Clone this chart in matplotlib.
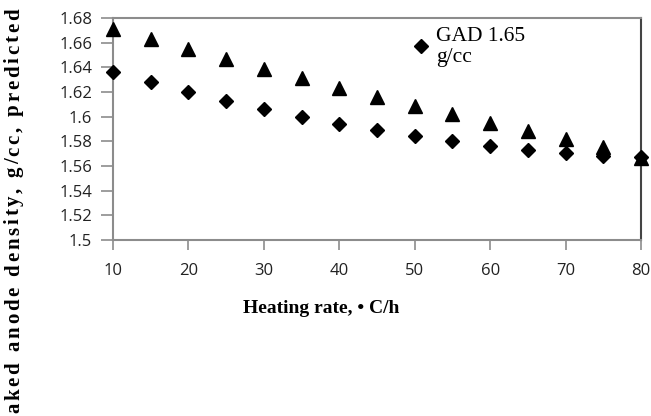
# Densidad de anodo cocido vs velocidad de calentamiento
import numpy as np
import matplotlib.pyplot as plt
from matplotlib.font_manager import FontProperties

# datos
tasa = [10, 15, 20, 25, 30, 35, 40, 45, 50, 55, 60, 65, 70, 75, 80]
gad_165 = [1.636, 1.628, 1.620, 1.613, 1.606, 1.600, 1.594, 1.589, 1.584,
           1.580, 1.576, 1.573, 1.5705, 1.568, 1.567]
otra_serie = [1.671, 1.6627, 1.655, 1.6467, 1.639, 1.631, 1.6235, 1.616, 1.609,
              1.602, 1.5946, 1.588, 1.5816, 1.5756, 1.5667]
yticks = [1.5, 1.52, 1.54, 1.56, 1.58, 1.6, 1.62, 1.64, 1.66, 1.68]
xticks = [10, 20, 30, 40, 50, 60, 70, 80]
titulo_y = 'Baked anode density, g/cc, predicted by model'

fig = plt.figure(figsize=(6.51, 4.16), dpi=100)
ax = fig.add_axes([0.1736, 0.423, 0.811, 0.5337])

ax.plot(tasa, otra_serie, linestyle='none', marker='^', color='black', markersize=10,
        clip_on=False, zorder=3)
ax.plot(tasa, gad_165, linestyle='none', marker='D', color='black', markersize=7.5,
        label='GAD 1.65\ng/cc', clip_on=False, zorder=3)

ax.set_xlim(10, 80)
ax.set_ylim(1.5, 1.68)
ax.set_xticks(xticks)
ax.set_yticks(yticks)
ax.set_yticklabels([('%g' % v) for v in yticks])
ax.tick_params(axis='both', direction='out', width=1.2, color='#8c8c8c',
               labelsize=12, labelcolor='#222222')
ax.tick_params(axis='y', length=8.5, pad=6.5)
ax.tick_params(axis='x', length=7.5, pad=9)
for lab in ax.get_xticklabels() + ax.get_yticklabels():
    lab.set_family('Open Sans')

for lado in ['left', 'bottom', 'top']:
    ax.spines[lado].set_color('#8c8c8c')
    ax.spines[lado].set_linewidth(1.5)
ax.spines['right'].set_color('#444444')
ax.spines['right'].set_linewidth(1.5)

leg = ax.legend(loc='upper left', bbox_to_anchor=(0.553, 1.0), frameon=False,
                prop={'family': 'Liberation Serif', 'size': 15.5},
                handlelength=0.7, handletextpad=0.35, borderaxespad=0,
                labelspacing=0.15)

fig.text(0.493, 0.258, 'Heating rate, \u2022 C/h', ha='center', va='center',
         family='Liberation Serif', weight='bold', fontsize=14)

# titulo del eje y letra por letra, para tener espaciado entre letras
fp = FontProperties(family='Liberation Serif', weight='bold', size=15)
fig.canvas.draw()
r = fig.canvas.get_renderer()
def ancho(s):
    return r.get_text_width_height_descent(s, fp, ismath=False)[0]
y0 = -14.0   # px desde abajo
esp = 2.8    # espaciado extra entre letras, px
for i, ch in enumerate(titulo_y):
    if ch == ' ':
        continue
    pos = ancho(titulo_y[:i + 1]) - ancho(ch) + i * esp
    fig.text(19 / 651, (y0 + pos) / 416, ch, rotation=90, rotation_mode='anchor',
             ha='left', va='baseline', fontproperties=fp)

fig.savefig('out.png', dpi=100)
